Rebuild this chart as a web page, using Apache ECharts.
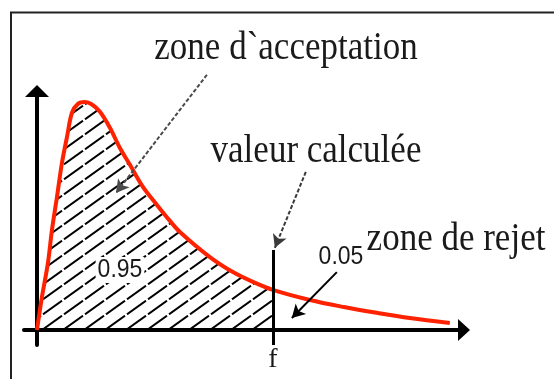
<!DOCTYPE html>
<html>
<head>
<meta charset="utf-8">
<script src="https://cdn.jsdelivr.net/npm/echarts@6/dist/echarts.min.js"></script>
<style>
  html, body { margin: 0; padding: 0; background: #fff; }
  #chart { width: 554px; height: 379px; }
</style>
</head>
<body>
<div id="chart"></div>
<script>
// courbe de densité
const curveX = [0, 0.069, 0.152, 0.208, 0.277, 0.346, 0.416, 0.485, 0.568, 0.665, 0.762, 0.873, 1.011,
    1.150, 1.289, 1.469, 1.663, 1.843, 1.981, 2.397, 2.716, 2.993, 3.27, 3.783, 4.254, 4.711, 5.168, 5.723];
const curveY = [0, 0.108, 0.219, 0.327, 0.434, 0.545, 0.630, 0.709, 0.738, 0.744, 0.736, 0.712, 0.660,
    0.594, 0.539, 0.467, 0.408, 0.356, 0.320, 0.238, 0.189, 0.157, 0.131, 0.098, 0.075, 0.056, 0.039, 0.023];
const fValue = 3.27;
const xRange = [-0.18, 5.92];
const yRange = [-0.049, 0.78];
const yRangeNotes = [-0.049, 1.077]; // même échelle, jusqu'en haut du cadre

// flèches d'annotation [x1, y1, x2, y2]
const arrowAcceptation = [2.356, 0.833, 1.095, 0.447];
const arrowCalculee = [3.727, 0.516, 3.298, 0.268];
const arrowRejet = [4.157, 0.189, 3.533, 0.039];

const chart = echarts.init(document.getElementById('chart'));

// motif hachuré
let hatch = document.createElement('canvas');
hatch.width = 21;
hatch.height = 15;
let ctx = hatch.getContext('2d');
ctx.strokeStyle = '#000';
ctx.lineWidth = 2;
ctx.beginPath();
ctx.moveTo(1, 14.3);
ctx.lineTo(20, 0.7);
ctx.stroke();

let full = curveX.map(function (x, i) { return [x, curveY[i]]; });
let accept = full.filter(function (p) { return p[0] <= fValue; });

function arrow(a, color, type) {
    return [
        { coord: [a[0], a[1]], symbol: 'none', lineStyle: { color: color, width: 2, type: type } },
        { coord: [a[2], a[3]], symbol: 'arrow', symbolSize: [11, 13] }
    ];
}

function txt(text, x, y, font, sy, bg) {
    return {
        type: 'text',
        x: x,
        y: y,
        scaleY: sy,
        z: 100,
        style: {
            text: text,
            font: font,
            fill: '#1a1a1a',
            align: 'center',
            verticalAlign: 'middle',
            textAlign: 'center',
            textVerticalAlign: 'middle',
            backgroundColor: bg || null,
            padding: bg ? [0, 2] : 0
        }
    };
}

let hiddenAxis = {
    show: false,
    type: 'value',
    splitLine: { show: false }
};

let option = {
    animation: false,
    grid: [
        { left: 24, right: 90, top: 91, bottom: 34 },
        { left: 24, right: 90, top: 0, bottom: 34 }
    ],
    xAxis: [
        {
            type: 'value',
            min: xRange[0],
            max: xRange[1],
            splitLine: { show: false },
            axisTick: { show: false },
            axisLabel: { show: false },
            axisLine: {
                onZero: true,
                symbol: ['none', 'triangle'],
                symbolSize: [22, 12],
                lineStyle: { color: '#000', width: 4 }
            }
        },
        Object.assign({ gridIndex: 1, min: xRange[0], max: xRange[1] }, hiddenAxis)
    ],
    yAxis: [
        {
            type: 'value',
            min: yRange[0],
            max: yRange[1],
            splitLine: { show: false },
            axisTick: { show: false },
            axisLabel: { show: false },
            axisLine: {
                onZero: true,
                symbol: ['none', 'triangle'],
                symbolSize: [24, 12],
                lineStyle: { color: '#000', width: 4 }
            }
        },
        Object.assign({ gridIndex: 1, min: yRangeNotes[0], max: yRangeNotes[1] }, hiddenAxis)
    ],
    series: [
        {
            type: 'line',
            data: accept,
            showSymbol: false,
            silent: true,
            lineStyle: { width: 0 },
            areaStyle: { color: { image: hatch, repeat: 'repeat' }, opacity: 1 },
            z: 1
        },
        {
            type: 'line',
            data: full,
            showSymbol: false,
            silent: true,
            smooth: 0.35,
            lineStyle: { color: '#ff2200', width: 4 },
            z: 3,
            markLine: {
                silent: true,
                symbol: ['none', 'none'],
                label: { show: false },
                data: [
                    [
                        { coord: [fValue, yRange[0]], lineStyle: { color: '#000', width: 3, type: 'solid' },
                          label: { show: true, position: 'start', formatter: 'f', color: '#1a1a1a',
                                   fontFamily: 'Liberation Serif', fontSize: 28, distance: 1 } },
                        { coord: [fValue, 0.261] }
                    ]
                ]
            }
        },
        {
            // annotations (flèches)
            type: 'line',
            xAxisIndex: 1,
            yAxisIndex: 1,
            data: [],
            silent: true,
            z: 5,
            markLine: {
                silent: true,
                symbol: ['none', 'none'],
                label: { show: false },
                data: [
                    arrow(arrowAcceptation, '#4a4a4a', [4, 2]),
                    arrow(arrowCalculee, '#3a3a3a', [4, 2]),
                    arrow(arrowRejet, '#000', 'solid')
                ]
            }
        }
    ],
    graphic: [
        {
            type: 'polyline',
            z: 100,
            shape: { points: [[11, 379], [11, 12.5], [554, 12.5]] },
            style: { stroke: '#222', lineWidth: 2, fill: null }
        },
        txt('zone d`acceptation', 286, 48, '35px "Liberation Serif"', 1.15),
        txt('valeur calculée', 316, 151, '35px "Liberation Serif"', 1.15),
        txt('zone de rejet', 456, 239, '35px "Liberation Serif"', 1.15),
        txt('0.95', 120, 270, '23px "Liberation Sans"', 1.14, '#fff'),
        txt('0.05', 341, 257, '23px "Liberation Sans"', 1.14)
    ]
};
chart.setOption(option);
</script>
</body>
</html>
